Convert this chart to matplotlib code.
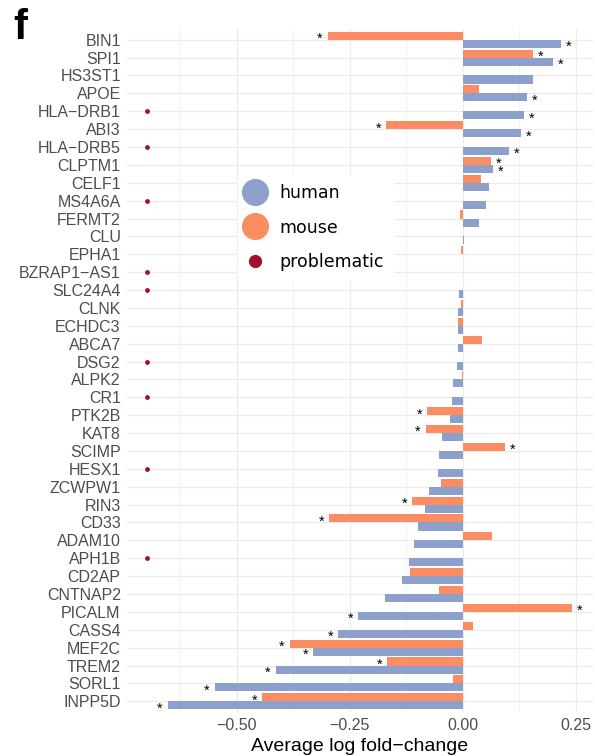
import matplotlib
matplotlib.use("Agg")
import matplotlib.pyplot as plt
from matplotlib.lines import Line2D
import numpy as np

nan = np.nan

# genes, ordered top to bottom
genes = ["BIN1", "SPI1", "HS3ST1", "APOE", "HLA-DRB1", "ABI3", "HLA-DRB5", "CLPTM1",
         "CELF1", "MS4A6A", "FERMT2", "CLU", "EPHA1", "BZRAP1-AS1", "SLC24A4", "CLNK",
         "ECHDC3", "ABCA7", "DSG2", "ALPK2", "CR1", "PTK2B", "KAT8", "SCIMP", "HESX1",
         "ZCWPW1", "RIN3", "CD33", "ADAM10", "APH1B", "CD2AP", "CNTNAP2", "PICALM",
         "CASS4", "MEF2C", "TREM2", "SORL1", "INPP5D"]

human = [0.217, 0.200, 0.156, 0.142, 0.135, 0.128, 0.102, 0.066,
         0.058, 0.052, 0.035, 0.002, 0.001, nan, -0.008, -0.010,
         -0.010, -0.011, -0.013, -0.022, -0.023, -0.029, -0.045, -0.052, -0.055,
         -0.075, -0.084, -0.100, -0.108, -0.120, -0.135, -0.172, -0.231,
         -0.276, -0.331, -0.414, -0.549, -0.653]

mouse = [-0.299, 0.156, 0.001, 0.035, nan, -0.169, nan, 0.063,
         0.040, nan, -0.006, 0.001, -0.004, nan, nan, -0.004,
         -0.011, 0.043, nan, -0.001, nan, -0.079, -0.082, 0.093, nan,
         -0.049, -0.112, -0.296, 0.064, nan, -0.117, -0.052, 0.242,
         0.023, -0.383, -0.167, -0.022, -0.444]

human_sig = ["BIN1", "SPI1", "APOE", "HLA-DRB1", "ABI3", "HLA-DRB5", "CLPTM1",
             "PICALM", "CASS4", "MEF2C", "TREM2", "SORL1", "INPP5D"]
mouse_sig = ["BIN1", "SPI1", "ABI3", "CLPTM1", "PTK2B", "KAT8", "SCIMP", "RIN3",
             "CD33", "PICALM", "MEF2C", "TREM2", "INPP5D"]
problematic = ["HLA-DRB1", "HLA-DRB5", "MS4A6A", "BZRAP1-AS1", "SLC24A4", "DSG2",
               "CR1", "HESX1", "APH1B"]

blue = "#8DA0CB"
orange = "#FC8D62"
darkred = "#A0102B"

human = np.array(human)
mouse = np.array(mouse)
pos = np.arange(len(genes))

fig = plt.figure(figsize=(5.95, 7.56), dpi=100)
ax = fig.add_axes([127 / 595, 44 / 756, 466 / 595, 683 / 756])

# grid
for y in pos:
    ax.axhline(y, color="#EBEBEB", lw=0.9, zorder=0)
for x in [-0.5, -0.25, 0.0, 0.25]:
    ax.axvline(x, color="#EBEBEB", lw=0.9, zorder=0)
for x in [-0.625, -0.375, -0.125, 0.125]:
    ax.axvline(x, color="#EBEBEB", lw=0.45, zorder=0)

bw = 0.45
m = ~np.isnan(mouse)
ax.barh(pos[m] - bw / 2, mouse[m], height=bw, color=orange, zorder=2)
h = ~np.isnan(human)
ax.barh(pos[h] + bw / 2, human[h], height=bw, color=blue, zorder=2)

# significance stars
off = 0.017
for g in human_sig:
    i = genes.index(g)
    v = human[i]
    ax.text(v + np.sign(v) * off, i + bw / 2 + 0.18, "*", ha="center", va="center",
            fontsize=10.5, color="black", family="Liberation Sans", zorder=4)
for g in mouse_sig:
    i = genes.index(g)
    v = mouse[i]
    ax.text(v + np.sign(v) * off, i - bw / 2 + 0.18, "*", ha="center", va="center",
            fontsize=10.5, color="black", family="Liberation Sans", zorder=4)

# problematic markers
pidx = [genes.index(g) for g in problematic]
ax.scatter(np.full(len(pidx), -0.698), pidx, s=12, color=darkred, zorder=3, linewidths=0)

ax.set_xlim(-0.743, 0.288)
ax.set_ylim(len(genes) - 0.4, -0.6)
ax.set_yticks(pos)
ax.set_yticklabels([g.replace("-", "\u2212") for g in genes])
ax.set_xticks([-0.5, -0.25, 0.0, 0.25])
ax.set_xticklabels(["\u22120.50", "\u22120.25", "0.00", "0.25"])
ax.tick_params(length=0, labelsize=11.5, labelcolor="#4D4D4D")
ax.tick_params(axis="y", pad=4.5)
ax.tick_params(axis="x", pad=4)
for lab in ax.get_xticklabels() + ax.get_yticklabels():
    lab.set_family("Liberation Sans")
for s in ax.spines.values():
    s.set_visible(False)

ax.set_xlabel("Average log fold\u2212change", fontsize=14, family="Liberation Sans",
              labelpad=4)

handles = [
    Line2D([], [], marker="o", ls="none", color=blue, markersize=18.5),
    Line2D([], [], marker="o", ls="none", color=orange, markersize=18.5),
    Line2D([], [], marker="o", ls="none", color=darkred, markersize=8.5),
]
leg = ax.legend(handles, ["human", "mouse", "problematic"], loc="upper left",
                bbox_to_anchor=((238 - 127) / 466, (712 - 175) / 683),
                prop={"family": "DejaVu Sans", "size": 12.5},
                handlelength=1.0, handletextpad=0.9, labelspacing=0.97,
                borderpad=0.5, frameon=True, fancybox=False, borderaxespad=0)
leg.get_frame().set_facecolor("white")
leg.get_frame().set_edgecolor("white")
leg.get_frame().set_alpha(1)

fig.text(0.022, 0.99, "f", fontsize=30, fontweight="bold", family="Liberation Sans",
         ha="left", va="top")

fig.savefig("out.png", dpi=100)
